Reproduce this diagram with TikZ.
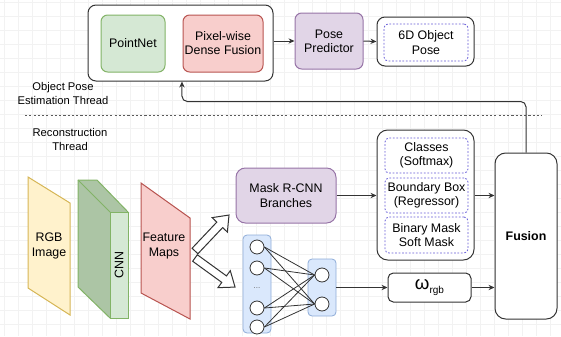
\documentclass[tikz,border=0pt]{standalone}
\usepackage{fontspec}
\setmainfont{Liberation Sans}
\usetikzlibrary{arrows.meta,calc}
\definecolor{linec}{HTML}{333333}
\definecolor{gfill}{HTML}{D5E8D4}\definecolor{gline}{HTML}{82B366}
\definecolor{gdark}{RGB}{172,197,165}
\definecolor{rfill}{HTML}{F8CECC}\definecolor{rline}{HTML}{B85450}
\definecolor{pfill}{HTML}{E1D5E7}\definecolor{pline}{HTML}{9673A6}
\definecolor{yfill}{HTML}{FFF2CC}\definecolor{yline}{HTML}{D6B656}
\definecolor{bfill}{HTML}{DAE8FC}\definecolor{bline}{HTML}{8EACD8}
\definecolor{dotc}{RGB}{100,90,215}
\tikzset{
  base/.style={inner sep=0pt, align=center, font=\fontsize{9.3}{10.6}\selectfont, line width=0.75pt},
  rbox/.style={base, draw=linec, fill=white, rounded corners=6pt},
  gbox/.style={base, draw=gline, fill=gfill, rounded corners=5pt},
  redbox/.style={base, draw=rline, fill=rfill, rounded corners=5pt},
  pbox/.style={base, draw=pline, fill=pfill, rounded corners=5pt},
  dbox/.style={base, draw=dotc, dash pattern=on 1.3pt off 1.3pt, line width=0.6pt, rounded corners=3pt, minimum width=62.25pt},
  nncol/.style={draw=bline, fill=bfill, rounded corners=3pt, line width=0.6pt, inner sep=0pt, minimum width=21pt},
  neuron/.style={circle, draw=linec, fill=white, line width=0.6pt, minimum size=10.5pt, inner sep=0pt},
  arr/.style={draw=linec, line width=0.75pt, -{Stealth[length=4.5pt,width=4pt]}},
  lbl/.style={align=center, inner sep=0pt, font=\fontsize{8.4}{10}\selectfont},
  blockarrow/.style={draw=linec, fill=white, line width=0.75pt, line join=miter},
}
\begin{document}
\begin{tikzpicture}[x=0.75pt,y=-0.75pt]
\useasboundingbox (0,0) rectangle (561,336);
% faint grid
\foreach \gx in {4,18,...,560} \draw[black!5, line width=0.4pt] (\gx,0) -- (\gx,336);
\foreach \gy in {2,16,...,335} \draw[black!5, line width=0.4pt] (0,\gy) -- (561,\gy);

% top thread
\node[rbox, minimum width=138.75pt, minimum height=57pt] (outer) at (180.5,43) {};
\node[gbox, minimum width=48pt, minimum height=42.75pt] (pointnet) at (133,43.5) {PointNet};
\node[redbox, minimum width=60pt, minimum height=42.75pt] (pixel) at (223,43.5) {Pixel-wise\\Dense Fusion};
\node[pbox, minimum width=51pt, minimum height=42pt] (pose) at (329,41) {Pose\\Predictor};
\node[rbox, minimum width=72.75pt, minimum height=36.75pt] (sixd) at (425.5,41.5) {};
\node[dbox, minimum width=63pt, minimum height=27.75pt] (sixdin) at (426,42.5) {6D Object\\Pose};
\draw[arr] (outer.east |- pose.west) -- (pose.west);
\draw[arr] (pose.east) -- (sixd.west);

% thread labels and separator
\node[lbl] (lblpose) at (63,93.5) {Object Pose\\Estimation Thread};
\node[lbl] (lblrec) at (70,139.5) {Reconstruction\\Thread};
\coordinate (sepL) at (25,115);
\coordinate (sepR) at (542,115);
\draw[black!65, line width=0.6pt, dash pattern=on 1.6pt off 1.6pt] (sepL) -- (sepR);

% right side
\node[rbox, rounded corners=8pt, minimum width=46.5pt, minimum height=124.5pt, font=\fontsize{9.3}{10.6}\selectfont\bfseries] (fusion) at (526,236) {Fusion};
\node[rbox, rounded corners=8pt, minimum width=72.75pt, minimum height=97.5pt] (maskout) at (425.5,195) {};
\node[dbox, minimum height=26.25pt] (classes) at (426.5,155.5) {Classes\\(Softmax)};
\node[dbox, minimum height=26.25pt] (bbox) at (426.5,195.5) {Boundary Box\\(Regressor)};
\node[dbox, minimum height=27pt] (bmask) at (426.5,235) {Binary Mask\\Soft Mask};
\node[rbox, rounded corners=4pt, minimum width=62.25pt, minimum height=21.75pt] (omega) at (429.5,287.5) {{\fontsize{14}{14}\selectfont ω}\raisebox{-2.5pt}{\fontsize{7.5}{8}\selectfont rgb}};
\node[pbox, rounded corners=7pt, minimum width=75pt, minimum height=41.25pt] (maskrcnn) at (286,195.5) {Mask R-CNN\\Branches};

\draw[arr] (maskrcnn.east) -- (maskrcnn.east -| maskout.west);
\draw[arr] (maskrcnn.east -| maskout.east) -- (maskrcnn.east -| fusion.west);
\draw[arr] (omega.east) -- (omega.east -| fusion.west);
\draw[arr, rounded corners=4pt] (fusion.north) |- ([xshift=1.1pt, yshift=-15pt]outer.south) -- ([xshift=1.1pt]outer.south);

% neural net
\node[nncol, minimum height=73.5pt] (nnin) at (257,284) {};
\node[nncol, minimum height=42.75pt] (nnout) at (322,287.5) {};
\node[neuron] (i1) at (257,247) {};
\node[neuron] (i2) at (257,268) {};
\node[font=\fontsize{6}{6}\selectfont, text=black!60] (dots) at (257,288) {...};
\node[neuron] (i3) at (257,308) {};
\node[neuron] (i4) at (257,327) {};
\node[neuron] (o1) at (322,275) {};
\node[neuron] (o2) at (322,304) {};
\foreach \i in {i1,i2,i3,i4} \foreach \o in {o1,o2} \draw[linec, line width=0.6pt] (\i.east) -- (\o.west);
\draw[arr] (nnout.east |- omega.west) -- (omega.west);

% left images
\coordinate (rgbA) at (28,177); \coordinate (rgbB) at (70,203);
\coordinate (rgbC) at (70,315); \coordinate (rgbD) at (28,288);
\draw[draw=yline, fill=yfill, line width=0.75pt] (rgbA) -- (rgbB) -- (rgbC) -- (rgbD) -- cycle;
\node[base] (rgb) at (49,246) {RGB\\Image};

\draw[draw=gline, fill=gdark, line width=0.75pt, line join=round] (78,180) -- (97,180) -- (128,212) -- (128,318) -- (110,318) -- (78,287) -- cycle;
\draw[draw=gline, line width=0.75pt] (78,180) -- (110,212);
\draw[draw=gline, fill=gfill, line width=0.75pt] (110,212) rectangle (128,318);
\node[base, rotate=90] (cnn) at (119,265) {CNN};

\draw[draw=rline, fill=rfill, line width=0.75pt] (141,183) -- (190,218) -- (190,319) -- (141,293) -- cycle;
\node[base] (fmaps) at (164,246) {Feature\\Maps};

% hollow block arrows
\draw[blockarrow, shift={(195,251)}, rotate=46.6] (0,-4) -- (36,-4) -- (36,-10.5) -- (49.5,0) -- (36,10.5) -- (36,4) -- (0,4) -- cycle;
\draw[blockarrow, shift={(195,258)}, rotate=-36] (0,-4) -- (36,-4) -- (36,-10.5) -- (49.5,0) -- (36,10.5) -- (36,4) -- (0,4) -- cycle;
\end{tikzpicture}
\end{document}
